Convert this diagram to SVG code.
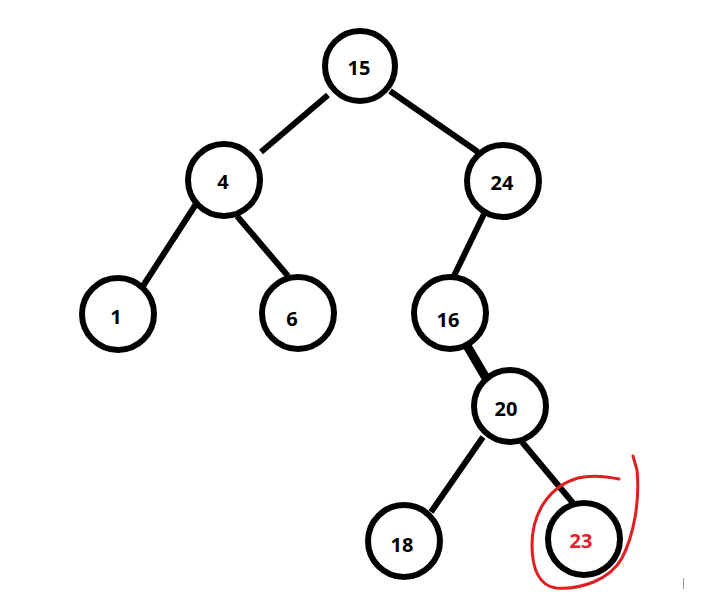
<svg xmlns="http://www.w3.org/2000/svg" width="721" height="592" viewBox="0 0 721 592">
<style>
.n circle{fill:#fff;stroke:#000;stroke-width:6}
.n text{font-family:"Open Sans","Liberation Sans",Arial,sans-serif;font-weight:bold;font-size:20px;text-anchor:middle;fill:#000}
.e line{stroke:#000;stroke-width:6}
</style>
<rect width="721" height="592" fill="#fff"/>
<g id="connectors" class="e">
<line x1="328" y1="95" x2="261" y2="152"/>
<line x1="390" y1="91" x2="478" y2="152"/>
<line x1="484" y1="214" x2="452" y2="280"/>
<line x1="196" y1="204" x2="143" y2="286"/>
<line x1="237" y1="216" x2="288" y2="276"/>
<line x1="466" y1="344" x2="486" y2="378" style="stroke-width:9"/>
<line x1="483" y1="437" x2="431" y2="512"/>
<line x1="522" y1="442" x2="573" y2="503"/>
</g>
<g id="n15" class="n"><circle cx="360" cy="66" r="35"/><text x="359" y="75">15</text></g>
<g id="n4" class="n"><circle cx="224" cy="180" r="36"/><text x="223" y="189">4</text></g>
<g id="n24" class="n"><circle cx="503" cy="181" r="36"/><text x="502" y="190">24</text></g>
<g id="n1" class="n"><circle cx="118" cy="314" r="36"/><text x="116" y="324">1</text></g>
<g id="n6" class="n"><circle cx="298" cy="313" r="36"/><text x="292" y="326">6</text></g>
<g id="n16" class="n"><circle cx="450" cy="313" r="36"/><text x="448" y="327">16</text></g>
<g id="n20" class="n"><circle cx="510" cy="406" r="36"/><text x="506" y="416">20</text></g>
<g id="n18" class="n"><circle cx="404" cy="541" r="36"/><text x="402" y="552">18</text></g>
<g id="n23" class="n"><circle cx="584" cy="539" r="36"/><text x="581" y="548" style="fill:#e8202a">23</text></g>
<path d="M619,479 C605,476 590,475 578,478 C550,486 532,512 532,545 C532,570 540,586 556,588 C580,590 610,580 622,558 C634,535 640,500 637,470 L633,456" fill="none" stroke="#e02020" stroke-width="3" stroke-linecap="round"/>
<line x1="683.5" y1="578" x2="683.5" y2="589" stroke="#999" stroke-width="1"/>
</svg>
